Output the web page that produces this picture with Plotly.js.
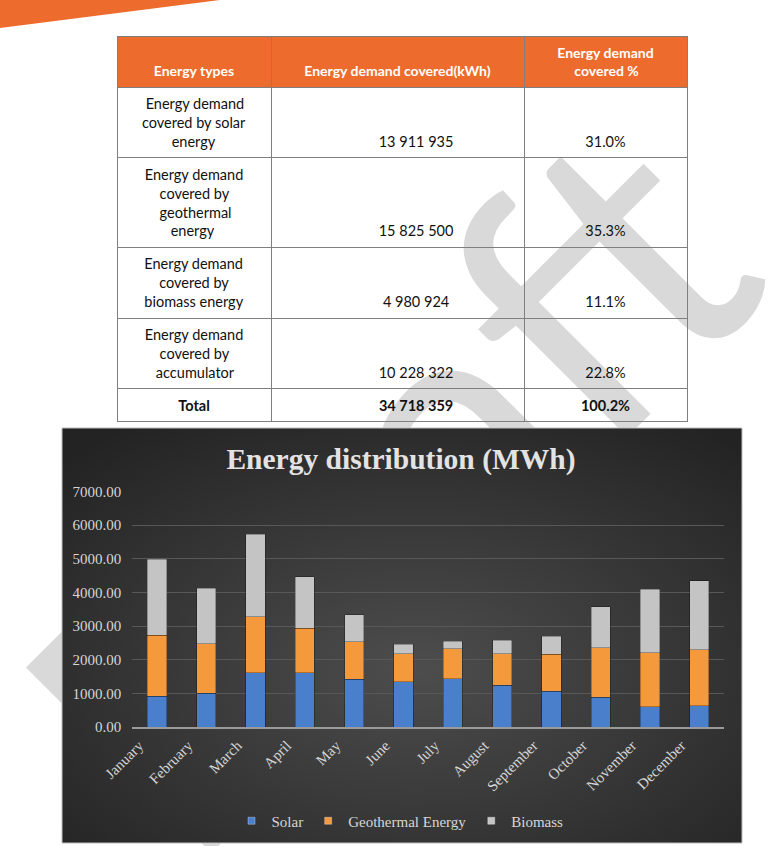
<!DOCTYPE html>
<html>
<head>
<meta charset="utf-8">
<script src="https://cdn.plot.ly/plotly-3.0.1.min.js"></script>
<style>
html,body{margin:0;padding:0;background:#ffffff;width:782px;height:846px;overflow:hidden;}
#wm{position:absolute;left:383px;top:482px;transform:translate(-50%,-50%) rotate(-45deg);font-family:Lato,"Open Sans",sans-serif;font-size:366px;line-height:1;color:#d9d9d9;white-space:nowrap;z-index:0;}
#chart{position:absolute;left:0;top:0;width:782px;height:846px;z-index:1;}
</style>
</head>
<body>
<div id="wm">Draft</div>
<div id="chart"></div>
<script>
// ---- chart data (MWh) ----
const months = ['January','February','March','April','May','June','July','August','September','October','November','December'];
const solar      = [920, 1010, 1610, 1610, 1420, 1340, 1440, 1240, 1070, 890, 600, 630];
const geothermal = [1810, 1470, 1670, 1320, 1110, 840, 890, 930, 1090, 1460, 1610, 1670];
const biomass    = [2250, 1640, 2450, 1530, 800, 280, 220, 410, 540, 1230, 1880, 2040];
const seriesNames = ['Solar', 'Geothermal Energy', 'Biomass'];
const chartTitle = 'Energy distribution (MWh)';

// ---- table data ----
const tableHeader = ['Energy types', 'Energy demand covered(kWh)', 'Energy demand<br>covered %'];
const energyTypes = ['Energy demand<br>covered by solar<br>energy',
                     'Energy demand<br>covered by<br>geothermal<br>energy',
                     'Energy demand<br>covered by<br>biomass energy',
                     'Energy demand<br>covered by<br>accumulator',
                     'Total'];
const demandKWh = ['13 911 935', '15 825 500', '4 980 924', '10 228 322', '34 718 359'];
const demandPct = ['31.0%', '35.3%', '11.1%', '22.8%', '100.2%'];

// ---- styling helpers (centred lines, bottom alignment, bold total row) ----
const BODY_SIZE = 14.5, HEAD_SIZE = 14;
const ctx = document.createElement('canvas').getContext('2d');
const measure = (t, font) => { ctx.font = font; return ctx.measureText(t.replace(/<\/?b>/g, '')).width; };
const centerLines = (cell, font) => {
  const lines = cell.split('<br>');
  const ws = lines.map(l => measure(l, font));
  const maxW = Math.max(...ws);
  const sp = measure('\u00a0', font);
  return lines.map((l, i) => '\u00a0'.repeat(Math.round((maxW - ws[i]) / 2 / sp)) + l).join('<br>');
};
const lineCount = s => s.split('<br>').length;
const padTo = (txt, n) => '\u00a0<br>'.repeat(Math.max(0, n - lineCount(txt))) + txt;
const lastBold = arr => arr.map((v, i) => i === arr.length - 1 ? '<b>' + v + '</b>' : v);
const shiftR = '\u00a0'.repeat(10);

const bodyFont = BODY_SIZE + 'px Lato';
const headFont = '700 ' + HEAD_SIZE + 'px Lato';
const headerLines = Math.max(...tableHeader.map(lineCount));
const headerVals = tableHeader.map(h => padTo(centerLines(h, headFont), headerLines));
const col1 = lastBold(energyTypes).map(v => centerLines(v, bodyFont));
const col2 = lastBold(demandKWh).map((v, i) => padTo(shiftR + v, lineCount(energyTypes[i])));
const col3 = lastBold(demandPct).map((v, i) => padTo(v, lineCount(energyTypes[i])));

const W = 782, H = 846;
const serif = 'Liberation Serif, Times New Roman, serif';
const colors = ['#4a7fcb', '#f5993d', '#c4c4c4'];
const values = [solar, geothermal, biomass];

const bgSvg = "<svg xmlns='http://www.w3.org/2000/svg' width='680' height='415'><defs><radialGradient id='g' cx='52%' cy='58%' r='72%'><stop offset='0' stop-color='#4d4d4d'/><stop offset='1' stop-color='#232323'/></radialGradient></defs><rect width='680' height='415' fill='url(#g)'/></svg>";

const traces = values.map((v, k) => ({
  type: 'bar',
  name: seriesNames[k],
  legendgroup: seriesNames[k],
  showlegend: false,
  x: months,
  y: v,
  marker: {color: colors[k], line: {color: 'rgba(0,0,0,0.35)', width: 0.8}},
  hoverinfo: 'skip'
}));
// legend keys with the small square markers of the original
seriesNames.forEach((n, k) => traces.push({
  type: 'scatter', mode: 'markers', name: n, legendgroup: n,
  x: [null], y: [null],
  marker: {symbol: 'square', size: 7, color: colors[k], line: {color: 'rgba(255,255,255,0.5)', width: 0.6}},
  hoverinfo: 'skip'
}));

traces.push({
  type: 'table',
  domain: {x: [117 / W, 687 / W], y: [1 - 428 / H, 1 - 36 / H]},
  columnwidth: [154, 253, 163],
  header: {
    values: headerVals,
    fill: {color: '#ed6b2d'},
    font: {family: 'Lato', size: HEAD_SIZE, color: '#ffffff', weight: 'bold'},
    align: 'center',
    line: {color: '#7f7f7f', width: 1},
    height: 24
  },
  cells: {
    values: [col1, col2, col3],
    fill: {color: 'rgba(0,0,0,0)'},
    font: {family: 'Lato', size: BODY_SIZE, color: '#111111'},
    align: 'center',
    line: {color: '#7f7f7f', width: 1},
    height: 24
  }
});

const layout = {
  width: W, height: H,
  margin: {l: 0, r: 0, t: 0, b: 0, pad: 0, autoexpand: false},
  paper_bgcolor: 'rgba(0,0,0,0)',
  plot_bgcolor: 'rgba(0,0,0,0)',
  barmode: 'stack',
  bargap: 0.61,
  showlegend: true,
  title: {
    text: chartTitle,
    x: 401 / W, xanchor: 'center', xref: 'paper',
    y: 1 - 459 / H, yanchor: 'middle', yref: 'paper',
    font: {family: serif, size: 29.5, color: '#e3e3e3', weight: 'bold'}
  },
  xaxis: {
    domain: [132.3 / W, 724 / W],
    type: 'category',
    categoryarray: months, categoryorder: 'array',
    tickangle: -45,
    tickfont: {family: serif, size: 15, color: '#d6d6d6'},
    ticklabelshift: -18,
    ticklabelstandoff: 2,
    showgrid: false,
    showline: true, linecolor: '#9a9a9a', linewidth: 2,
    ticks: '',
    fixedrange: true
  },
  yaxis: {
    domain: [1 - 727 / H, 1 - 491.5 / H],
    range: [0, 7000],
    dtick: 1000, tick0: 0,
    tickformat: '.2f',
    tickfont: {family: serif, size: 15, color: '#d6d6d6'},
    gridcolor: '#585858', gridwidth: 1,
    zeroline: false,
    showline: false,
    ticks: '',
    ticklabelstandoff: 10,
    fixedrange: true
  },
  legend: {
    orientation: 'h',
    x: 400 / W, xanchor: 'center',
    y: 1 - 821 / H, yanchor: 'middle',
    font: {family: serif, size: 15, color: '#d6d6d6'},
    bgcolor: 'rgba(0,0,0,0)',
    traceorder: 'normal',
    itemwidth: 30
  },
  images: [{
    source: 'data:image/svg+xml;charset=utf-8,' + encodeURIComponent(bgSvg),
    xref: 'paper', yref: 'paper',
    x: 62 / W, y: 1 - 428 / H, sizex: 680 / W, sizey: 415 / H,
    xanchor: 'left', yanchor: 'top', sizing: 'stretch', layer: 'below'
  }],
  shapes: [
    {type: 'path', xref: 'paper', yref: 'paper', layer: 'below',
     path: 'M0,1 L' + (220 / W) + ',1 L0,' + (1 - 28 / H) + ' Z',
     fillcolor: '#ed6b2d', line: {width: 0}},
    {type: 'rect', xref: 'paper', yref: 'paper', layer: 'below',
     x0: 62 / W, x1: 742 / W, y0: 1 - 843 / H, y1: 1 - 428 / H,
     fillcolor: 'rgba(0,0,0,0)', line: {color: '#bdbdbd', width: 1}}
  ]
};

Plotly.newPlot('chart', traces, layout, {displayModeBar: false, staticPlot: true});
</script>
</body>
</html>
